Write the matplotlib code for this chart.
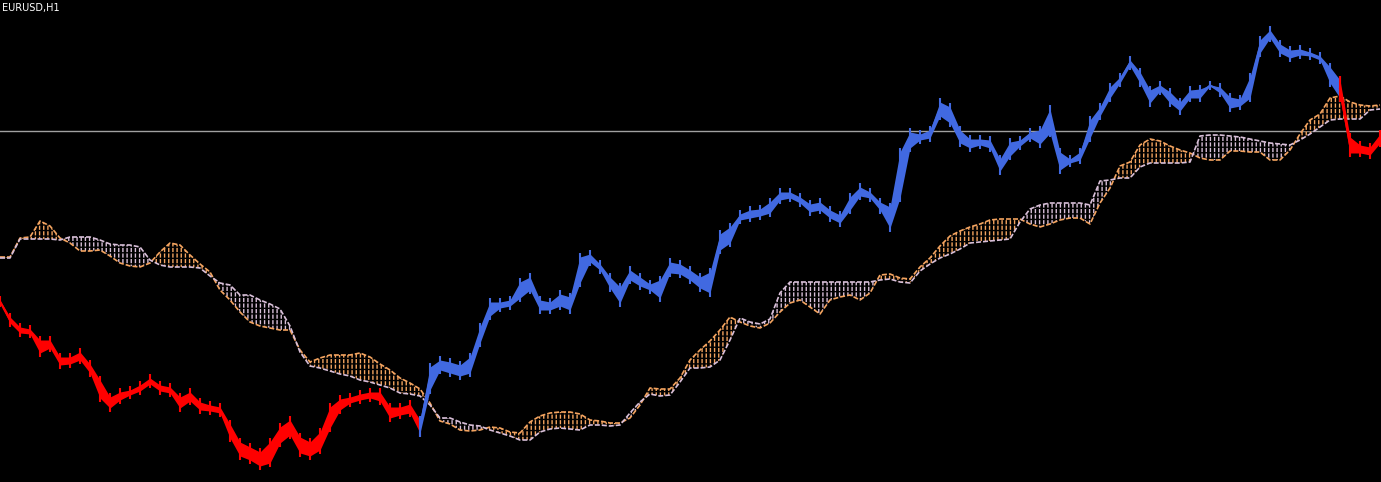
import numpy as np
import matplotlib
matplotlib.use('Agg')
from matplotlib import pyplot as plt

symbol_label = 'EURUSD,H1'

# bar position (every 10th H1 bar shown on screen)
bars = list(range(0, 1381, 10))

# price range per sampled bar, in points above the window floor
high = [184, 167, 157, 155, 144, 144, 127, 127, 132, 120,
        104, 87, 92, 94, 99, 106, 99, 97, 87, 92,
        82, 79, 77, 60, 42, 37, 32, 42, 57, 64,
        47, 42, 52, 77, 85, 87, 90, 92, 92, 77,
        77, 80, 64, 117, 124, 122, 119, 127, 157, 182,
        182, 184, 202, 207, 184, 182, 190, 187, 227, 230,
        220, 207, 197, 214, 207, 200, 204, 222, 220, 214,
        207, 212, 250, 257, 270, 274, 275, 282, 292, 292,
        287, 280, 282, 274, 269, 287, 297, 292, 282, 277,
        332, 352, 350, 354, 382, 377, 354, 345, 345, 344,
        325, 342, 344, 352, 354, 375, 332, 325, 332, 364,
        377, 397, 407, 424, 412, 394, 399, 392, 382, 394,
        395, 399, 397, 387, 385, 407, 444, 454, 440, 434,
        435, 432, 428, 417, 404, 347, 339, 337, 350]
low = [177, 157, 147, 146, 127, 132, 115, 116, 120, 107,
       82, 72, 80, 85, 89, 96, 89, 87, 72, 79,
       70, 69, 67, 42, 24, 20, 14, 17, 37, 45,
       27, 24, 30, 52, 70, 77, 80, 82, 79, 62,
       65, 67, 47, 90, 110, 107, 104, 107, 137, 164,
       172, 174, 182, 190, 170, 170, 174, 170, 197, 218,
       210, 192, 177, 200, 194, 190, 182, 207, 206, 200,
       192, 187, 230, 237, 260, 262, 264, 267, 280, 282,
       277, 268, 270, 262, 257, 270, 284, 282, 270, 252,
       282, 332, 340, 342, 364, 357, 337, 332, 335, 332,
       309, 324, 334, 342, 336, 347, 310, 317, 320, 342,
       364, 382, 397, 414, 397, 377, 389, 377, 369, 382,
       382, 394, 387, 372, 374, 382, 427, 442, 427, 422,
       425, 424, 420, 397, 382, 327, 327, 325, 337]

# Ichimoku Senkou spans (same bar positions)
span_a = [225, 225, 244, 245, 261, 256, 244, 239, 231, 231,
          232, 226, 219, 216, 215, 219, 230, 239, 237, 227,
          218, 210, 192, 182, 170, 160, 156, 154, 152, 152,
          132, 120, 124, 127, 127, 127, 129, 125, 118, 112,
          104, 99, 93, 79, 61, 58, 52, 51, 52, 55,
          54, 50, 49, 60, 66, 69, 70, 70, 68, 62,
          61, 59, 59, 64, 77, 94, 93, 93, 104, 122,
          132, 141, 152, 165, 160, 156, 154, 159, 170, 179,
          182, 175, 168, 182, 185, 187, 182, 189, 207, 208,
          204, 203, 215, 224, 236, 246, 251, 255, 258, 262,
          263, 263, 263, 258, 255, 258, 262, 264, 264, 258,
          279, 294, 316, 320, 337, 343, 341, 336, 332, 329,
          324, 322, 322, 331, 331, 330, 330, 322, 322, 332,
          348, 362, 368, 384, 386, 380, 377, 376, 377]
span_b = [224, 224, 243, 243, 243, 243, 242, 245, 245, 245,
          242, 238, 237, 237, 235, 222, 217, 215, 215, 215,
          214, 206, 199, 197, 187, 187, 182, 178, 173, 156,
          130, 116, 114, 111, 108, 106, 102, 100, 97, 94,
          89, 88, 86, 77, 64, 64, 60, 57, 56, 52,
          49, 46, 42, 42, 50, 53, 54, 53, 52, 57,
          57, 56, 57, 69, 80, 88, 86, 87, 100, 114,
          114, 115, 122, 142, 164, 160, 158, 163, 189, 200,
          200, 200, 200, 200, 200, 200, 200, 200, 202, 203,
          200, 199, 211, 218, 224, 228, 233, 239, 240, 241,
          242, 243, 260, 273, 277, 279, 279, 279, 279, 277,
          301, 302, 304, 304, 315, 319, 319, 319, 319, 320,
          346, 347, 347, 346, 345, 343, 341, 339, 338, 337,
          342, 348, 355, 362, 363, 363, 363, 372, 373]

price_line = 351

bg = 'black'
bull_col = '#4169E1'
bear_col = '#FF0000'
span_a_col = '#F4A460'
span_b_col = '#D8BFD8'


def draw_cloud(ax, x, a, b):
    plt.rcParams['hatch.linewidth'] = 1.0
    ax.fill_between(x, a, b, where=a >= b, interpolate=True, facecolor='none',
                    edgecolor=span_a_col, hatch='||||', linewidth=0, zorder=2)
    ax.fill_between(x, a, b, where=a < b, interpolate=True, facecolor='none',
                    edgecolor=span_b_col, hatch='||||', linewidth=0, zorder=2)
    # cut the vertical hatch into short dashes like the terminal does
    plt.rcParams['hatch.linewidth'] = 1.0
    ax.fill_between(x, a, b, facecolor='none', edgecolor=bg, hatch='---',
                    linewidth=0, zorder=3)
    ax.plot(x, a, color=span_a_col, linewidth=1.2, dashes=(3, 1.2), zorder=4)
    ax.plot(x, b, color=span_b_col, linewidth=1.2, dashes=(3, 1.2), zorder=4)


def draw_price(ax, x, hi, lo, a, b):
    mid = (hi + lo) / 2
    above = mid > np.maximum(a, b)
    start = 0
    for i in range(1, len(x) + 1):
        if i == len(x) or above[i] != above[start]:
            col = bull_col if above[start] else bear_col
            s = max(start - 1, 0)
            ax.fill_between(x[s:i], lo[s:i] + 2, hi[s:i] - 2, color=col, linewidth=0, zorder=5)
            ax.vlines(x[s:i], lo[s:i] - 2, hi[s:i] + 2, color=col, linewidth=1.5, zorder=5)
            ax.plot(x[s:i], (hi[s:i] + lo[s:i]) / 2, color=col, linewidth=1.5, zorder=5)
            start = i


if __name__ == '__main__':
    x = np.array(bars, dtype=float)
    hi = np.array(high, dtype=float)
    lo = np.array(low, dtype=float)
    a = np.array(span_a, dtype=float)
    b = np.array(span_b, dtype=float)

    fig = plt.figure(figsize=(13.81, 4.82), dpi=100, facecolor=bg)
    ax = fig.add_axes([0, 0, 1, 1])
    ax.set_facecolor(bg)

    ax.axhline(price_line, color='#A0A0A0', linewidth=1, zorder=1)
    draw_cloud(ax, x, a, b)
    draw_price(ax, x, hi, lo, a, b)

    ax.set_xlim(0, 1381)
    ax.set_ylim(0, 482)
    ax.axis('off')

    fig.text(2 / 1381, 1 - 3 / 482, symbol_label, color='white', fontsize=7,
             ha='left', va='top')

    plt.savefig('out.png', dpi=100, facecolor=bg)
